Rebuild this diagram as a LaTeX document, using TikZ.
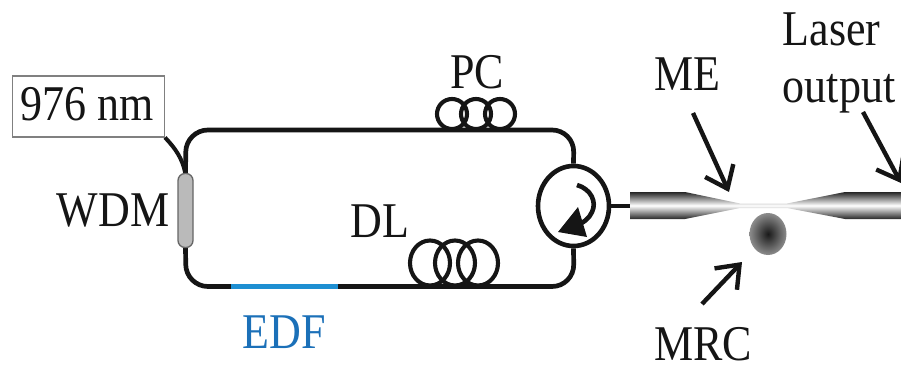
\documentclass[tikz,border=0pt]{standalone}
\usepackage{fontspec}
\setmainfont[FakeStretch=0.88]{Liberation Serif}
\usetikzlibrary{shapes.geometric,arrows.meta}
\definecolor{ink}{HTML}{151515}
\definecolor{edfblue}{HTML}{1E8FD2}
\definecolor{edftext}{HTML}{1B70B8}
\tikzset{
  lbl/.style={inner sep=0pt,anchor=base,text=ink,font=\fontsize{50}{50}\selectfont},
  fibre/.style={draw=ink,line width=4.7pt},
  coil/.style={draw=ink,line width=4.1pt},
  pointer/.style={draw=ink,line width=4.4pt,-{Straight Barb[length=20pt,width=31pt,line width=4.4pt]}},
}
\begin{document}
\begin{tikzpicture}[x=1pt,y=-1pt]
\useasboundingbox (0,0) rectangle (901,364);
\node[draw=black!50,line width=1.5pt,fill=white,minimum width=152pt,minimum height=61pt,inner sep=0pt,anchor=north west] (pump) at (11.5,75) {};
\node[lbl] (pumpt) at (87,120) {976 nm};
\coordinate (tl) at (186,130);
\coordinate (tr) at (574,130);
\coordinate (bl) at (186,286.5);
\coordinate (br) at (574,286.5);
\coordinate (edfa) at (231,286.5);
\coordinate (edfb) at (338,286.5);
\coordinate (wdmt) at (185.5,175);
\coordinate (wdmb) at (185.5,246);
\node[ellipse,draw=ink,line width=4.6pt,minimum width=71pt,minimum height=80pt,inner sep=0pt] (circ) at (573.5,206) {};
% ring
\draw[fibre,rounded corners=22pt] (wdmt) -- (tl) -- (tr) -- (circ.north);
\draw[fibre,rounded corners=22pt] (wdmb) -- (bl) -- (br) -- (circ.south);
\draw[draw=edfblue,line width=5pt] (edfa) -- (edfb);
\draw[draw=ink,line width=4pt] (pump.south east) .. controls (174,147) and (183,158) .. (wdmt);
\node[draw=black!60,line width=1.3pt,fill=black!27,rounded corners=7pt,minimum width=15pt,minimum height=74pt,inner sep=0pt] (wdm) at (185.5,210.5) {};
% PC coils
\foreach \n/\x in {a/452,b/476,c/500}{\node[circle,coil,minimum size=30pt,inner sep=0pt] (pc\n) at (\x,114) {};}
% DL coils
\foreach \n/\x in {a/430,b/455,c/478}{\node[ellipse,coil,minimum width=40pt,minimum height=45pt,inner sep=0pt] (dl\n) at (\x,263) {};}
% circulator interior
\draw[draw=ink,line width=4.6pt] (577,185) .. controls (591,189) and (597,202) .. (592,212) .. controls (589,219) and (583,223) .. (575,226);
\fill[ink] (578,207) -- (558,232) -- (587,237) -- cycle;
% fibre stub and taper
\coordinate (stub) at (630,206);
\draw[draw=ink,line width=4pt] (circ.east) -- (stub);
\shade[top color=black!85,bottom color=black!85,middle color=white]
  (630,192) -- (685,192) -- (740,203.5) -- (787,203.5) -- (845,192) -- (901,192)
  -- (901,219) -- (845,219) -- (787,208) -- (740,208) -- (685,219) -- (630,219) -- cycle;
% microresonator
\node[ellipse,minimum width=37pt,minimum height=42pt,inner sep=0pt,shade,inner color=black!90,outer color=black!45] (mrc) at (768,234) {};
% pointers
\coordinate (mea) at (693,113); \coordinate (meb) at (729,192);
\coordinate (loa) at (863,112); \coordinate (lob) at (901,183);
\coordinate (mra) at (702,304); \coordinate (mrb) at (742,262);
\draw[pointer] (mea) -- (meb);
\draw[pointer] (loa) -- (lob);
\draw[pointer] (mra) -- (mrb);
% labels
\node[lbl] (twdm) at (113,226) {WDM};
\node[lbl] (tpc) at (477,88) {PC};
\node[lbl] (tdl) at (380,237) {DL};
\node[lbl,text=edftext] (tedf) at (284.5,348) {EDF};
\node[lbl] (tme) at (687,90.5) {ME};
\node[lbl] (tla) at (831.5,45) {Laser};
\node[lbl] (tou) at (839,102) {output};
\node[lbl] (tmrc) at (703,360) {MRC};
\end{tikzpicture}
\end{document}
